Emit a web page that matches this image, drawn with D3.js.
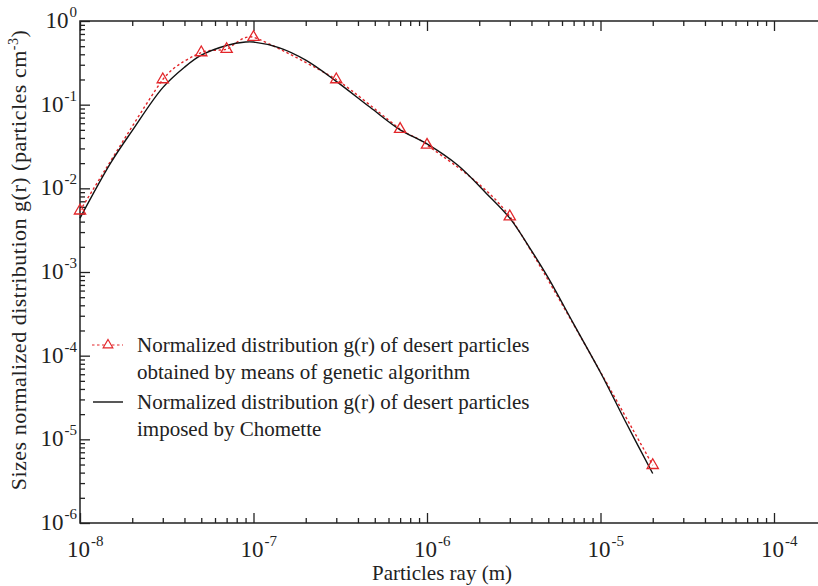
<!DOCTYPE html>
<html>
<head>
<meta charset="utf-8">
<script src="https://cdn.jsdelivr.net/npm/d3@7"></script>
<style>
	body { margin: 0; background: #fff; }
	svg text { font-family: "Liberation Serif", "Times New Roman", serif; fill: #222; }
</style>
</head>
<body>
<div id="chart"></div>
<script>
// values
var gaR = [1e-8, 3e-8, 5e-8, 7e-8, 1e-7, 3e-7, 7e-7, 1e-6, 3e-6, 2e-5];
var gaG = [5.4e-3, 0.2, 0.42, 0.46, 0.64, 0.2, 0.051, 0.033, 4.6e-3, 4.9e-6];

var chometteR = [1e-8, 1.5e-8, 2e-8, 3e-8, 4e-8, 5e-8, 7e-8, 9e-8, 1e-7, 1.4e-7, 2e-7, 3e-7, 4.7e-7, 7e-7,
	1e-6, 1.5e-6, 2.2e-6, 3e-6, 4e-6, 5e-6, 7e-6, 1e-5, 1.4e-5, 2e-5];
var chometteG = [4.4e-3, 0.02, 0.049, 0.16, 0.28, 0.39, 0.51, 0.56, 0.56, 0.48, 0.34, 0.19, 0.093, 0.05,
	0.034, 0.019, 8.7e-3, 4.4e-3, 1.8e-3, 8.5e-4, 2.4e-4, 6.3e-5, 1.6e-5, 3.9e-6];

var xTickExp = [-8, -7, -6, -5, -4];
var yTickExp = [0, -1, -2, -3, -4, -5, -6];

var legendLines = [
	"Normalized distribution g(r) of desert particles",
	"obtained by means of genetic algorithm",
	"Normalized distribution g(r) of desert particles",
	"imposed by Chomette"
];

var W = 818, H = 586;
// plot box (right side lies beyond the picture)
var pLeft = 80, pTop = 21, pBottom = 523, pRight = 860;
var red = "#e3262a";

var svg = d3.select("#chart").append("svg")
	.attr("width", W)
	.attr("height", H);

var x = d3.scaleLog().domain([1e-8, 1e-4]).range([pLeft, 774]);
var y = d3.scaleLog().domain([1e-6, 1]).range([pBottom, pTop]);

// minor tick values 2..9 x 10^k
function minors(exps) {
	var out = [];
	exps.forEach(function(e) {
		for (var m = 2; m <= 9; m++) out.push(m * Math.pow(10, e));
	});
	return out;
}
var xMajor = xTickExp.map(function(e) { return Math.pow(10, e); });
var yMajor = yTickExp.map(function(e) { return Math.pow(10, e); });
var xMinor = minors([-8, -7, -6, -5, -4]);
var yMinor = minors([-6, -5, -4, -3, -2, -1]);

function styleAxis(g) {
	g.select(".domain").remove();
	g.selectAll(".tick line").attr("stroke", "#222").attr("stroke-width", 1.3);
}

svg.append("g").attr("transform", "translate(0," + pBottom + ")")
	.call(d3.axisBottom(x).tickValues(xMajor).tickSize(-10).tickFormat("")).call(styleAxis);
svg.append("g").attr("transform", "translate(0," + pBottom + ")")
	.call(d3.axisBottom(x).tickValues(xMinor).tickSize(-5).tickFormat("")).call(styleAxis);
svg.append("g").attr("transform", "translate(0," + pTop + ")")
	.call(d3.axisTop(x).tickValues(xMajor).tickSize(-10).tickFormat("")).call(styleAxis);
svg.append("g").attr("transform", "translate(0," + pTop + ")")
	.call(d3.axisTop(x).tickValues(xMinor).tickSize(-5).tickFormat("")).call(styleAxis);
svg.append("g").attr("transform", "translate(" + pLeft + ",0)")
	.call(d3.axisLeft(y).tickValues(yMajor).tickSize(-10).tickFormat("")).call(styleAxis);
svg.append("g").attr("transform", "translate(" + pLeft + ",0)")
	.call(d3.axisLeft(y).tickValues(yMinor).tickSize(-5).tickFormat("")).call(styleAxis);

svg.append("path")
	.attr("d", "M" + pRight + "," + pTop + "H" + pLeft + "V" + pBottom + "H" + pRight)
	.attr("fill", "none")
	.attr("stroke", "#222")
	.attr("stroke-width", 1.5);

// tick labels 10^n
xTickExp.forEach(function(e) {
	var t = svg.append("text")
		.attr("x", x(Math.pow(10, e)) - 13)
		.attr("y", 557)
		.attr("font-size", 23);
	t.append("tspan").text("10");
	t.append("tspan").attr("dy", -11).attr("dx", 1).attr("font-size", 15).text(e);
});
yTickExp.forEach(function(e) {
	var t = svg.append("text")
		.attr("x", 77)
		.attr("y", y(Math.pow(10, e)) + 7)
		.attr("text-anchor", "end")
		.attr("font-size", 23);
	t.append("tspan").text("10");
	t.append("tspan").attr("dy", -11).attr("dx", 1).attr("font-size", 15).text(e);
});

// axis titles
svg.append("text")
	.attr("x", 442)
	.attr("y", 580)
	.attr("text-anchor", "middle")
	.attr("font-size", 21)
	.text("Particles ray (m)");

var yt = svg.append("text")
	.attr("transform", "translate(26,260) rotate(-90)")
	.attr("text-anchor", "middle")
	.attr("font-size", 22)
	.attr("letter-spacing", 0.5);
yt.append("tspan").text("Sizes normalized distribution g(r) (particles cm");
yt.append("tspan").attr("dy", -8).attr("font-size", 14).text("-3");
yt.append("tspan").attr("dy", 8).text(")");

// curves
var chomette = chometteR.map(function(r, i) { return [r, chometteG[i]]; });
var ga = gaR.map(function(r, i) { return [r, gaG[i]]; });

var line = d3.line()
	.x(function(d) { return x(d[0]); })
	.y(function(d) { return y(d[1]); })
	.curve(d3.curveCatmullRom.alpha(0.5));

var gaLine = d3.line()
	.x(function(d) { return x(d[0]); })
	.y(function(d) { return y(d[1]); })
	.curve(d3.curveCardinal.tension(0.4));

svg.append("path")
	.attr("d", gaLine(ga))
	.attr("fill", "none")
	.attr("stroke", red)
	.attr("stroke-width", 1.4)
	.attr("stroke-dasharray", "2.5,2.5");

svg.append("path")
	.attr("d", line(chomette))
	.attr("fill", "none")
	.attr("stroke", "#111")
	.attr("stroke-width", 1.4);

var tri = d3.symbol().type(d3.symbolTriangle).size(55);
svg.selectAll("path.marker").data(ga).enter().append("path")
	.attr("class", "marker")
	.attr("d", tri)
	.attr("transform", function(d) { return "translate(" + x(d[0]) + "," + y(d[1]) + ")"; })
	.attr("fill", "none")
	.attr("stroke", red)
	.attr("stroke-width", 1.3);

// legend
var lg = svg.append("g");
lg.append("line").attr("x1", 92).attr("x2", 123).attr("y1", 345).attr("y2", 345)
	.attr("stroke", red).attr("stroke-width", 1.2).attr("stroke-dasharray", "2.5,2.5");
lg.append("path").attr("d", d3.symbol().type(d3.symbolTriangle).size(40))
	.attr("transform", "translate(108,345)")
	.attr("fill", "#fff").attr("stroke", red).attr("stroke-width", 1.2);
lg.append("line").attr("x1", 93).attr("x2", 123).attr("y1", 402).attr("y2", 402)
	.attr("stroke", "#111").attr("stroke-width", 1.4);

var legendY = [352, 379, 409, 436];
legendLines.forEach(function(s, i) {
	lg.append("text")
		.attr("x", 137)
		.attr("y", legendY[i])
		.attr("font-size", 21)
		.text(s);
});
</script>
</body>
</html>
